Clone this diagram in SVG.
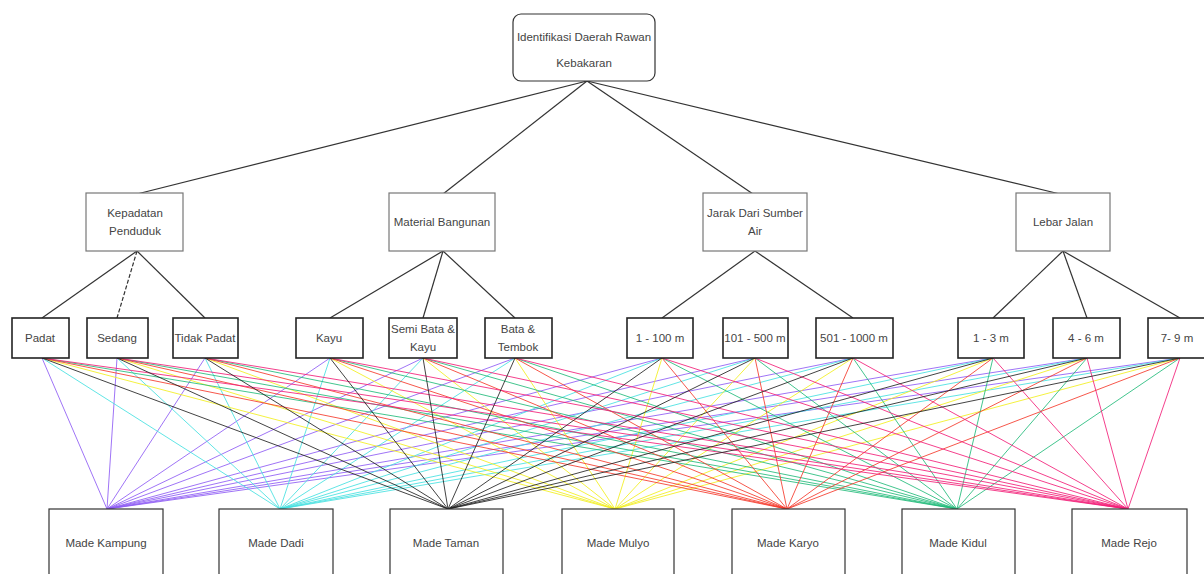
<svg xmlns="http://www.w3.org/2000/svg" width="1204" height="574" viewBox="0 0 1204 574">
<style>
.box{fill:#fff;stroke:#333;stroke-width:1.2}
.box2{fill:#fff;stroke:#777;stroke-width:1.2}
.box3{fill:#fff;stroke:#222;stroke-width:1.6}
.t{font-family:"Liberation Sans",Arial,sans-serif;font-size:11.5px;fill:#444;text-anchor:middle}
.tree{stroke:#333;stroke-width:1.2;fill:none}
.c{stroke-width:1;fill:none;stroke-opacity:0.85}
.k{stroke:#8e5cf5}.d{stroke:#45e0e0}.tm{stroke:#222}.m{stroke:#f2ef1e}.ka{stroke:#f53a2c}.ki{stroke:#22bb7a}.r{stroke:#f21e78}
</style>
<rect width="1204" height="574" fill="#fff"/>
<g id="connectors">
<g class="tree">
<line x1="587" y1="81" x2="137" y2="194"/>
<line x1="587" y1="81" x2="443" y2="194"/>
<line x1="587" y1="81" x2="753" y2="194"/>
<line x1="587" y1="81" x2="1060" y2="194"/>
<line x1="137" y1="251" x2="42" y2="318"/>
<line x1="137" y1="251" x2="117" y2="318" stroke-dasharray="4 2"/>
<line x1="137" y1="251" x2="205" y2="318"/>
<line x1="443" y1="251" x2="330" y2="318"/>
<line x1="443" y1="251" x2="423" y2="318"/>
<line x1="443" y1="251" x2="515" y2="318"/>
<line x1="755" y1="251" x2="662" y2="318"/>
<line x1="755" y1="251" x2="853" y2="318"/>
<line x1="1063" y1="251" x2="993" y2="318"/>
<line x1="1063" y1="251" x2="1087" y2="318"/>
<line x1="1063" y1="251" x2="1180" y2="318"/>
</g>
<g class="c k">
<line x1="42" y1="358" x2="107" y2="509"/><line x1="117" y1="358" x2="107" y2="509"/><line x1="205" y1="358" x2="107" y2="509"/><line x1="330" y1="358" x2="107" y2="509"/><line x1="423" y1="358" x2="107" y2="509"/><line x1="515" y1="358" x2="107" y2="509"/><line x1="662" y1="358" x2="107" y2="509"/><line x1="755" y1="358" x2="107" y2="509"/><line x1="853" y1="358" x2="107" y2="509"/><line x1="993" y1="358" x2="107" y2="509"/><line x1="1087" y1="358" x2="107" y2="509"/><line x1="1180" y1="358" x2="107" y2="509"/>
</g>
<g class="c d">
<line x1="42" y1="358" x2="280" y2="509"/><line x1="117" y1="358" x2="280" y2="509"/><line x1="205" y1="358" x2="280" y2="509"/><line x1="330" y1="358" x2="280" y2="509"/><line x1="423" y1="358" x2="280" y2="509"/><line x1="515" y1="358" x2="280" y2="509"/><line x1="662" y1="358" x2="280" y2="509"/><line x1="755" y1="358" x2="280" y2="509"/><line x1="853" y1="358" x2="280" y2="509"/><line x1="993" y1="358" x2="280" y2="509"/><line x1="1087" y1="358" x2="280" y2="509"/><line x1="1180" y1="358" x2="280" y2="509"/>
</g>
<g class="c m">
<line x1="42" y1="358" x2="615" y2="509"/><line x1="117" y1="358" x2="615" y2="509"/><line x1="205" y1="358" x2="615" y2="509"/><line x1="330" y1="358" x2="615" y2="509"/><line x1="423" y1="358" x2="615" y2="509"/><line x1="515" y1="358" x2="615" y2="509"/><line x1="662" y1="358" x2="615" y2="509"/><line x1="755" y1="358" x2="615" y2="509"/><line x1="853" y1="358" x2="615" y2="509"/><line x1="993" y1="358" x2="615" y2="509"/><line x1="1087" y1="358" x2="615" y2="509"/><line x1="1180" y1="358" x2="615" y2="509"/>
</g>
<g class="c ki">
<line x1="42" y1="358" x2="957" y2="509"/><line x1="117" y1="358" x2="957" y2="509"/><line x1="205" y1="358" x2="957" y2="509"/><line x1="330" y1="358" x2="957" y2="509"/><line x1="423" y1="358" x2="957" y2="509"/><line x1="515" y1="358" x2="957" y2="509"/><line x1="662" y1="358" x2="957" y2="509"/><line x1="755" y1="358" x2="957" y2="509"/><line x1="853" y1="358" x2="957" y2="509"/><line x1="993" y1="358" x2="957" y2="509"/><line x1="1087" y1="358" x2="957" y2="509"/><line x1="1180" y1="358" x2="957" y2="509"/>
</g>
<g class="c ka">
<line x1="42" y1="358" x2="787" y2="509"/><line x1="117" y1="358" x2="787" y2="509"/><line x1="205" y1="358" x2="787" y2="509"/><line x1="330" y1="358" x2="787" y2="509"/><line x1="423" y1="358" x2="787" y2="509"/><line x1="515" y1="358" x2="787" y2="509"/><line x1="662" y1="358" x2="787" y2="509"/><line x1="755" y1="358" x2="787" y2="509"/><line x1="853" y1="358" x2="787" y2="509"/><line x1="993" y1="358" x2="787" y2="509"/><line x1="1087" y1="358" x2="787" y2="509"/><line x1="1180" y1="358" x2="787" y2="509"/>
</g>
<g class="c r">
<line x1="42" y1="358" x2="1128" y2="509"/><line x1="117" y1="358" x2="1128" y2="509"/><line x1="205" y1="358" x2="1128" y2="509"/><line x1="330" y1="358" x2="1128" y2="509"/><line x1="423" y1="358" x2="1128" y2="509"/><line x1="515" y1="358" x2="1128" y2="509"/><line x1="662" y1="358" x2="1128" y2="509"/><line x1="755" y1="358" x2="1128" y2="509"/><line x1="853" y1="358" x2="1128" y2="509"/><line x1="993" y1="358" x2="1128" y2="509"/><line x1="1087" y1="358" x2="1128" y2="509"/><line x1="1180" y1="358" x2="1128" y2="509"/>
</g>
<g class="c tm">
<line x1="42" y1="358" x2="448" y2="509"/><line x1="117" y1="358" x2="448" y2="509"/><line x1="205" y1="358" x2="448" y2="509"/><line x1="330" y1="358" x2="448" y2="509"/><line x1="423" y1="358" x2="448" y2="509"/><line x1="515" y1="358" x2="448" y2="509"/><line x1="662" y1="358" x2="448" y2="509"/><line x1="755" y1="358" x2="448" y2="509"/><line x1="853" y1="358" x2="448" y2="509"/><line x1="993" y1="358" x2="448" y2="509"/><line x1="1087" y1="358" x2="448" y2="509"/><line x1="1180" y1="358" x2="448" y2="509"/>
</g>
</g>
<g id="root"><rect class="box" x="513" y="14" width="142" height="67" rx="8"/><text class="t" x="584" y="41">Identifikasi Daerah Rawan</text><text class="t" x="584" y="67">Kebakaran</text></g>
<g id="kepadatan"><rect class="box2" x="86" y="193" width="97" height="58"/><text class="t" x="135" y="217">Kepadatan</text><text class="t" x="135" y="235">Penduduk</text></g>
<g id="material"><rect class="box2" x="389" y="193" width="106" height="58"/><text class="t" x="442" y="226">Material Bangunan</text></g>
<g id="jarak"><rect class="box2" x="703" y="193" width="104" height="58"/><text class="t" x="755" y="217">Jarak Dari Sumber</text><text class="t" x="755" y="235">Air</text></g>
<g id="lebar"><rect class="box2" x="1016" y="193" width="94" height="58"/><text class="t" x="1063" y="226">Lebar Jalan</text></g>
<g id="padat"><rect class="box3" x="12" y="318" width="57" height="40"/><text class="t" x="40" y="342">Padat</text></g>
<g id="sedang"><rect class="box3" x="87" y="318" width="61" height="40"/><text class="t" x="117" y="342">Sedang</text></g>
<g id="tidakpadat"><rect class="box3" x="173" y="318" width="65" height="40"/><text class="t" x="205" y="342">Tidak Padat</text></g>
<g id="kayu"><rect class="box3" x="296" y="318" width="67" height="40"/><text class="t" x="329" y="342">Kayu</text></g>
<g id="semibata"><rect class="box3" x="389" y="318" width="68" height="40"/><text class="t" x="423" y="333">Semi Bata &amp;</text><text class="t" x="423" y="351">Kayu</text></g>
<g id="batatembok"><rect class="box3" x="485" y="318" width="67" height="40"/><text class="t" x="518" y="333">Bata &amp;</text><text class="t" x="518" y="351">Tembok</text></g>
<g id="j1"><rect class="box3" x="627" y="318" width="66" height="40"/><text class="t" x="660" y="342">1 - 100 m</text></g>
<g id="j2"><rect class="box3" x="723" y="318" width="65" height="40"/><text class="t" x="755" y="342">101 - 500 m</text></g>
<g id="j3"><rect class="box3" x="816" y="318" width="77" height="40"/><text class="t" x="854" y="342">501 - 1000 m</text></g>
<g id="l1"><rect class="box3" x="958" y="318" width="66" height="40"/><text class="t" x="991" y="342">1 - 3 m</text></g>
<g id="l2"><rect class="box3" x="1053" y="318" width="67" height="40"/><text class="t" x="1086" y="342">4 - 6 m</text></g>
<g id="l3"><rect class="box3" x="1148" y="318" width="60" height="40"/><text class="t" x="1177" y="342">7- 9 m</text></g>
<g id="kampung"><rect class="box" x="49" y="509" width="114" height="72"/><text class="t" x="106" y="547">Made Kampung</text></g>
<g id="dadi"><rect class="box" x="219" y="509" width="114" height="72"/><text class="t" x="276" y="547">Made Dadi</text></g>
<g id="taman"><rect class="box" x="390" y="509" width="113" height="72"/><text class="t" x="446" y="547">Made Taman</text></g>
<g id="mulyo"><rect class="box" x="562" y="509" width="112" height="72"/><text class="t" x="618" y="547">Made Mulyo</text></g>
<g id="karyo"><rect class="box" x="732" y="509" width="113" height="72"/><text class="t" x="788" y="547">Made Karyo</text></g>
<g id="kidul"><rect class="box" x="902" y="509" width="113" height="72"/><text class="t" x="958" y="547">Made Kidul</text></g>
<g id="rejo"><rect class="box" x="1072" y="509" width="115" height="72"/><text class="t" x="1129" y="547">Made Rejo</text></g>
</svg>
